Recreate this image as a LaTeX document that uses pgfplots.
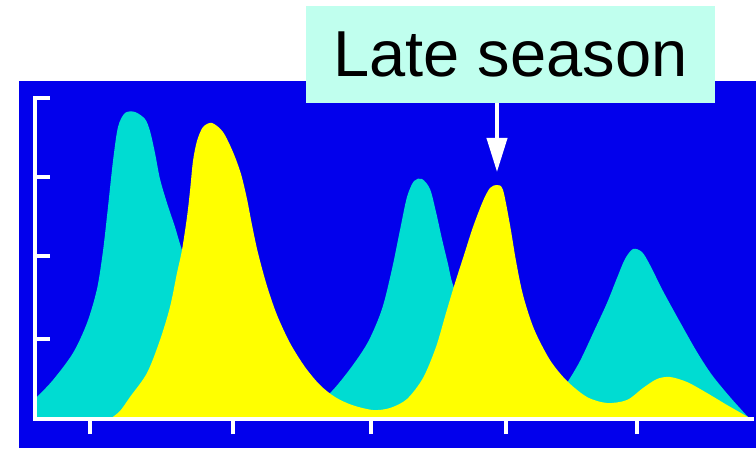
\documentclass[border=0pt]{standalone}
\usepackage{fontspec}
\setmainfont{Liberation Sans}
\usepackage{pgfplots}
\pgfplotsset{compat=1.18}
\usetikzlibrary{arrows.meta}
\definecolor{bgblue}{RGB}{2,0,236}
\definecolor{tealc}{RGB}{0,220,210}
\definecolor{yel}{RGB}{255,255,0}
\definecolor{labelc}{RGB}{192,255,238}
\begin{document}
\begin{tikzpicture}
\begin{axis}[
  width=717pt, height=321pt, scale only axis,
  xmin=35, xmax=752, ymin=0, ymax=321,
  axis lines=left,
  axis line style={white, line width=4pt, -, line cap=rect},
  clip=false, axis on top,
  xtick={90,233,371,506,637}, ytick={80,163,242,321},
  xticklabels={}, yticklabels={},
  tick style={white, line width=3.5pt},
  major tick length=15pt,
  xtick align=outside, ytick align=inside,
]
\fill[white] (axis cs:0,-29) rectangle (axis cs:756,419);
\fill[bgblue] (axis cs:19,-29) rectangle (axis cs:756,338);
\coordinate (BL) at (axis cs:0,-29);
\coordinate (TR) at (axis cs:756,419);
\addplot[fill=tealc, draw=none, smooth] coordinates {
(35,20) (53,39) (73,66) (87,96) (97,130) (103,168) (108,212) (113,258)
(118,292) (125,306) (135,307) (145,300) (150,288) (155,266) (160,240)
(167,216) (175,192) (182,169) (195,135) (215,95) (240,65) (270,40) (295,25) (315,18)
(330,26) (350,50) (368,77) (382,110) (392,150) (400,189) (407,222)
(414,238) (422,240) (430,230) (436,207) (442,180) (448,155) (453,134)
(467,100) (485,70) (505,45) (530,26) (550,22) (560,27)
(567,36) (580,58) (595,90) (607,116) (617,141) (625,160) (633,170)
(642,167) (650,154) (663,128) (680,97) (697,67) (712,44) (730,22) (748,2)
} \closedcycle;
\addplot[fill=yel, draw=none, smooth] coordinates {
(110,0) (120,8) (130,22) (147,46) (160,79) (170,112) (177,146) (182,169)
(187,202) (190,228) (193,258) (197,278) (203,292) (212,296) (223,287)
(233,267) (241,245) (247,220) (252,194) (258,166) (267,133) (277,104)
(290,76) (305,52) (320,34) (335,22) (352,14) (373,9) (390,11) (407,20)
(423,41) (436,72) (446,106) (455,136) (464,164) (473,192) (483,218) (490,231)
(497,234) (503,229) (510,194) (516,158) (523,124) (534,90) (550,59)
(567,38) (587,22) (607,16) (627,19) (643,31) (657,40) (670,42) (687,37)
(707,26) (727,14) (748,2)
} \closedcycle;
\draw[white, line width=4pt, -{Triangle[width=20pt,length=34pt]}]
  (axis cs:497,316) -- (axis cs:497,247);
\node[fill=labelc, minimum width=409pt, minimum height=97pt, inner sep=0pt,
  font=\fontsize{65}{78}\selectfont] at (axis cs:510.5,364.5) {Late season};
\end{axis}
\pgfresetboundingbox
\useasboundingbox (BL) rectangle (TR);
\end{tikzpicture}
\end{document}
